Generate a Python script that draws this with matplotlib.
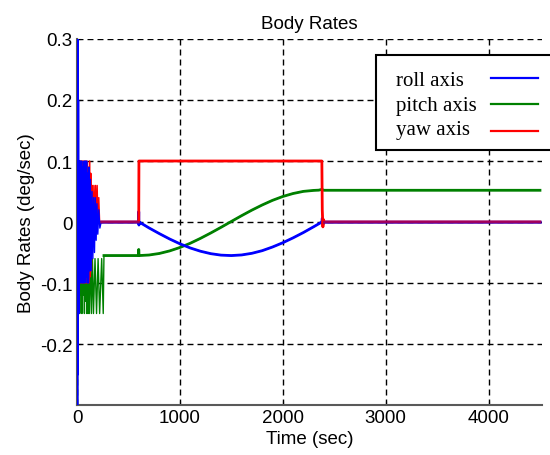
import numpy as np
import matplotlib
matplotlib.use("Agg")
import matplotlib.pyplot as plt
from matplotlib.patches import Rectangle
from matplotlib.lines import Line2D

# --- data (time in sec, rate in deg/sec) ---
roll_t = [0, 3, 6, 9, 12, 15, 18, 22, 28, 34, 40, 46, 52, 58, 64, 70, 76, 82,
          88, 94, 100, 106, 112, 118, 124, 130, 138, 146, 154, 162, 170, 178,
          186, 194, 202, 212, 222, 235, 250, 598, 600, 602, 604, 700, 800, 900,
          1000, 1100, 1200, 1300, 1400, 1500, 1600, 1700, 1800, 1900, 2000,
          2100, 2200, 2300, 2380, 2384, 2390, 2400, 4500]
roll_v = [0.0, 0.30, -0.30, 0.30, -0.25, 0.20, -0.15, 0.10, -0.10, 0.10, -0.10,
          0.10, -0.10, 0.09, -0.10, 0.10, -0.10, 0.10, -0.09, 0.10, -0.10,
          0.08, -0.10, 0.09, -0.08, 0.07, -0.08, 0.05, -0.06, 0.04, -0.05,
          0.04, -0.03, 0.03, -0.02, 0.02, -0.01, 0.0, 0.0, 0.0, 0.017, -0.005,
          0.0, -0.0097, -0.019, -0.0278, -0.0357, -0.0425, -0.0479, -0.0519,
          -0.0543, -0.055, -0.054, -0.0513, -0.047, -0.041, -0.034, -0.026,
          -0.0173, -0.0078, 0.0, 0.006, -0.004, 0.0, 0.0]

pitch_t = [0, 4, 7, 10, 14, 18, 22, 27, 32, 37, 42, 48, 54, 60, 66, 72, 78, 84,
           90, 96, 102, 108, 114, 120, 130, 140, 150, 160, 175, 190, 205, 220,
           240, 255, 262, 598, 600, 603, 700, 800, 900, 1000, 1100, 1200, 1300,
           1400, 1500, 1600, 1700, 1800, 1900, 2000, 2100, 2200, 2300, 2350,
           2380, 2400, 4500]
pitch_v = [0.0, -0.30, 0.05, -0.25, 0.03, -0.15, 0.05, -0.15, 0.05, -0.12,
           0.05, -0.15, 0.04, -0.12, 0.05, -0.15, 0.03, -0.13, 0.05, -0.15,
           0.0, -0.15, -0.03, -0.15, -0.05, -0.15, -0.06, -0.15, -0.06, -0.15,
           -0.06, -0.15, -0.06, -0.15, -0.055, -0.055, -0.045, -0.055, -0.0541,
           -0.0516, -0.0474, -0.0418, -0.0349, -0.0268, -0.0180, -0.0087,
           0.0009, 0.0104, 0.0195, 0.0279, 0.0355, 0.0418, 0.0467, 0.0502,
           0.0518, 0.0522, 0.0535, 0.052, 0.052]

yaw_t = [0, 4, 7, 10, 13, 16, 20, 26, 32, 38, 44, 50, 56, 62, 68, 74, 80, 86,
         92, 98, 104, 110, 116, 122, 128, 134, 140, 148, 156, 164, 172, 180,
         188, 196, 204, 212, 220, 240, 600, 602, 2380, 2384, 2390, 2396, 2402,
         4500]
yaw_v = [0.0, 0.15, -0.20, 0.13, -0.12, 0.10, -0.10, 0.10, -0.10, 0.10, -0.10,
         0.10, -0.10, 0.10, -0.10, 0.10, -0.10, 0.10, -0.10, 0.10, -0.10, 0.09,
         -0.10, 0.10, -0.09, 0.08, -0.08, 0.06, -0.02, 0.06, -0.01, 0.06, 0.0,
         0.06, 0.0, 0.04, 0.0, 0.0, 0.0, 0.10, 0.10, 0.02, -0.008, 0.004, 0.0,
         0.0]

labels = ["roll axis", "pitch axis", "yaw axis"]
colors = ["#0000ff", "#008000", "#ff0000"]
xticks = [0, 1000, 2000, 3000, 4000]
yticks = [-0.2, -0.1, 0, 0.1, 0.2, 0.3]
ytick_labels = ["-0.2", "-0.1", "0", "0.1", "0.2", "0.3"]

plt.rcParams["font.family"] = ["Liberation Sans", "DejaVu Sans"]

W, H = 550, 456
fig = plt.figure(figsize=(W / 100, H / 100), dpi=100)
ax = fig.add_axes([0.14, 0.1096, 0.8455, 0.8027])

# thin lines for the start-up transient, thick ones once it settles
# (thin: pitch, yaw, roll on top; thick: pitch, roll, yaw on top)
series = [(pitch_t, pitch_v, colors[1], 262, 2, 5),
          (roll_t, roll_v, colors[0], 235, 4, 6),
          (yaw_t, yaw_v, colors[2], 240, 3, 7)]
for t, v, col, t_settle, z_thin, z_thick in series:
    t = np.array(t)
    v = np.array(v)
    ax.plot(t, v, color=col, lw=1.0, zorder=z_thin)
    keep = t >= t_settle
    ax.plot(t[keep], v[keep], color=col, lw=2.0, zorder=z_thick)

# where roll and yaw overlap at zero the picture shows a maroon blend
rt = np.array(roll_t)
rv = np.array(roll_v)
for mask in [rt >= 2400, (rt >= 235) & (rt <= 598)]:
    ax.plot(rt[mask], rv[mask], color=colors[0], lw=2.0, alpha=0.4, zorder=9)

ax.set_xlim(0, 4520)
ax.set_ylim(-0.3, 0.3)
ax.set_xticks(xticks)
ax.set_yticks(yticks)
ax.set_yticklabels(ytick_labels)
ax.tick_params(direction="in", length=3, labelsize=13.5, pad=3)

ax.grid(True, color="k", lw=1.0, linestyle=(0, (4.3, 2.9)))
ax.set_axisbelow(True)
for s in ["top", "right"]:
    ax.spines[s].set_visible(False)
for s in ["left", "bottom"]:
    ax.spines[s].set_color("0.35")
    ax.spines[s].set_linewidth(1.5)

ax.set_title("Body Rates", fontsize=13.5, pad=8)
ax.set_xlabel("Time (sec)", fontsize=13.5, labelpad=3)
ax.set_ylabel("Body Rates (deg/sec)", fontsize=13.5, labelpad=4)


def fx(px):
    return px / W


def fy(py):
    return 1 - py / H


# legend drawn by hand: text on the left, line sample on the right
fig.patches.append(Rectangle((fx(375.5), fy(151)), fx(200), 95 / H,
                             transform=fig.transFigure, facecolor="white",
                             edgecolor="k", lw=1.5, zorder=10))
text_base = [86, 111, 135.5]
line_y = [79, 105, 131.5]
for lab, col, tb, ly in zip(labels, colors, text_base, line_y):
    fig.text(fx(396), fy(tb), lab, family="Liberation Serif", fontsize=15,
             va="baseline", ha="left", zorder=11)
    fig.lines.append(Line2D([fx(491), fx(538)], [fy(ly), fy(ly)],
                            transform=fig.transFigure, color=col, lw=1.6,
                            zorder=11))

fig.savefig("out.png", dpi=100)
